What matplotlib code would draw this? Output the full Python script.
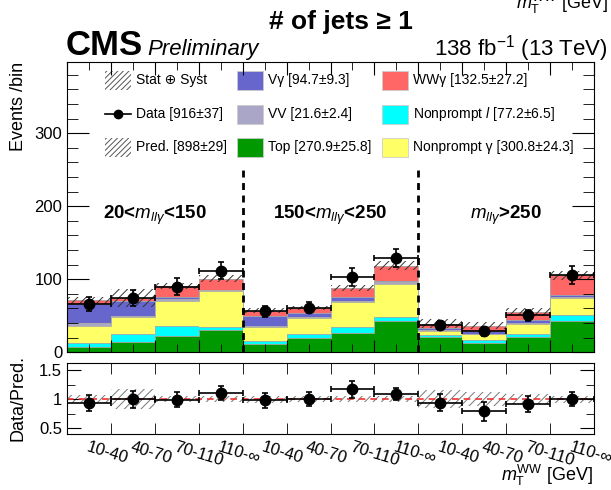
import numpy as np
import matplotlib
matplotlib.use('Agg')
import matplotlib.pyplot as plt
from matplotlib.patches import Rectangle
from matplotlib.lines import Line2D

plt.rcParams['font.family'] = ['Liberation Sans', 'DejaVu Sans']
plt.rcParams['mathtext.fontset'] = 'custom'
plt.rcParams['mathtext.rm'] = 'Liberation Sans'
plt.rcParams['mathtext.it'] = 'Liberation Sans:italic'
plt.rcParams['mathtext.bf'] = 'Liberation Sans:bold'
plt.rcParams['hatch.linewidth'] = 0.7

# 12 bins: 3 m_llg regions x 4 mT(WW) bins
bin_labels = ['10-40', '40-70', '70-110', '110-∞'] * 3
region_labels = [r'20<$m_{ll\gamma}$<150', r'150<$m_{ll\gamma}$<250', r'$m_{ll\gamma}$>250']

# stacked backgrounds, bottom to top
top    = [7.6, 14.4, 22.2, 30.3, 10.9, 19.0, 26.7, 43.0, 20.4, 13.0, 20.4, 43.0]
np_l   = [5.0, 10.0, 13.5, 5.0, 4.0, 6.0, 8.5, 6.0, 3.7, 4.2, 4.8, 7.5]
np_g   = [24.0, 23.5, 35.0, 48.0, 19.5, 21.5, 33.5, 45.0, 5.0, 7.5, 14.0, 23.5]
vv     = [3.0, 2.2, 2.3, 1.5, 1.5, 1.3, 1.6, 2.0, 0.8, 0.9, 1.0, 1.8]
vg     = [27.0, 19.5, 3.0, 1.2, 13.5, 6.0, 5.5, 2.0, 3.0, 3.0, 4.5, 2.5]
wwg    = [4.4, 4.7, 15.0, 15.0, 7.7, 6.9, 12.6, 20.8, 6.5, 8.1, 10.6, 26.9]
rel_unc = [0.07, 0.17, 0.05, 0.05, 0.06, 0.05, 0.05, 0.05, 0.15, 0.12, 0.09, 0.06]

data     = [66, 74, 90, 112, 56, 61, 103, 129, 37, 29, 51, 106]
data_err = [10, 11, 11.5, 12, 7.5, 7.5, 12.5, 12.5, 6, 6, 7.5, 12.5]

stack = [
    (top,  '#009900', 'Top [270.9±25.8]'),
    (np_l, '#00ffff', r'Nonprompt $l$ [77.2±6.5]'),
    (np_g, '#ffff66', 'Nonprompt γ [300.8±24.3]'),
    (vv,   '#aaa6c8', 'VV [21.6±2.4]'),
    (vg,   '#6666cc', 'Vγ [94.7±9.3]'),
    (wwg,  '#ff6666', 'WWγ [132.5±27.2]'),
]

nb = len(data)
edges = np.arange(nb + 1)
centers = edges[:-1] + 0.5

fig = plt.figure(figsize=(6.11, 4.9), dpi=100)
ax = fig.add_axes([67/611, 1-352.3/490, 527/611, 290.6/490])
rax = fig.add_axes([67/611, 1-434/490, 527/611, 71/490])

# stacked histogram
base = np.zeros(nb)
for vals, col, lab in stack:
    vals = np.array(vals)
    ax.stairs(base + vals, edges, baseline=base, fill=True, color=col, lw=0)
    ax.stairs(base + vals, edges, baseline=None, color='#aaaaaa', lw=0.6)
    base = base + vals
pred = base
pred_err = pred * np.array(rel_unc)

ax.bar(centers, 2*pred_err, bottom=pred-pred_err, width=1, fill=False,
       hatch='////', edgecolor='#333333', lw=0)
ax.errorbar(centers, data, yerr=data_err, xerr=0.5, fmt='o', color='black',
            ms=7.5, elinewidth=1.2, capsize=2, capthick=1.2)

for xe in [4, 8]:
    ax.plot([xe, xe], [0, 255], color='black', ls=(0, (2.5, 2)), lw=2)

for i, lab in enumerate(region_labels):
    ax.text(2 + 4*i, 187, lab, ha='center', va='center', fontsize=13.5, fontweight='bold')

ax.set_xlim(0, nb)
ax.set_ylim(0, 398)
ax.set_xticks(edges)
ax.set_xticks(centers, minor=True)
ax.set_xticklabels([])
ax.set_yticks([0, 100, 200, 300])
ax.set_yticks(np.arange(0, 400, 20), minor=True)
ax.tick_params(axis='both', which='both', direction='in', top=True, right=True, labelsize=12)
ax.tick_params(axis='y', which='major', length=16)
ax.tick_params(axis='y', which='minor', length=8)
ax.tick_params(axis='x', which='major', length=9)
ax.tick_params(axis='x', which='minor', length=6)

# legend, drawn by hand in three columns
hw, hh = 26/527, 19/290.6
cols = [0.072, 0.3226, 0.598]
rows = [0.937, 0.820, 0.706]
pad = 5/527
entries = [
    (0, 0, 'hatch', 'Stat ⊕ Syst'),
    (0, 1, 'data', 'Data [916±37]'),
    (0, 2, 'hatch', 'Pred. [898±29]'),
    (1, 0, stack[4][1], stack[4][2]),
    (1, 1, stack[3][1], stack[3][2]),
    (1, 2, stack[0][1], stack[0][2]),
    (2, 0, stack[5][1], stack[5][2]),
    (2, 1, stack[1][1], stack[1][2]),
    (2, 2, stack[2][1], stack[2][2]),
]
for c, r, kind, lab in entries:
    x0, yc = cols[c], rows[r]
    if kind == 'hatch':
        ax.add_patch(Rectangle((x0, yc - hh/2), hw, hh, transform=ax.transAxes,
                               fill=False, hatch='//////', edgecolor='#555555', lw=0))
    elif kind == 'data':
        ax.add_line(Line2D([x0, x0 + hw], [yc, yc], transform=ax.transAxes,
                           color='black', lw=1.2))
        ax.add_line(Line2D([x0 + hw/2], [yc], transform=ax.transAxes,
                           marker='o', color='black', ms=6))
    else:
        ax.add_patch(Rectangle((x0, yc - hh/2), hw, hh, transform=ax.transAxes,
                               facecolor=kind, edgecolor='#cccccc', lw=0.6))
    ax.text(x0 + hw + pad, yc, lab, transform=ax.transAxes, ha='left', va='center',
            fontsize=10)

# ratio panel
ratio = np.array(data) / pred
ratio_err = np.array(data_err) / pred
rax.bar(centers, 2*np.array(rel_unc), bottom=1-np.array(rel_unc), width=1, fill=False,
        hatch='////', edgecolor='#777777', lw=0)
rax.axhline(1, color='#ee3333', ls=(0, (4, 3)), lw=1.2)
rax.errorbar(centers, ratio, yerr=ratio_err, xerr=0.5, fmt='o', color='black',
             ms=7.5, elinewidth=1.2, capsize=2, capthick=1.2)
rax.set_xlim(0, nb)
rax.set_ylim(0.4, 1.62)
rax.set_yticks([0.5, 1, 1.5])
rax.set_yticklabels(['0.5', '1', '1.5'])
rax.set_yticks([0.75, 1.25], minor=True)
rax.set_xticks(centers)
rax.set_xticklabels(bin_labels, rotation=-17, ha='left', va='top', rotation_mode='anchor',
                    fontsize=12)
rax.set_xticks(edges, minor=True)
rax.tick_params(axis='both', which='both', direction='in', top=True, right=True, labelsize=12)
rax.tick_params(axis='x', which='major', length=0, pad=4, labelsize=12)
rax.tick_params(axis='x', which='minor', length=8)
rax.tick_params(axis='y', which='major', length=10)
rax.tick_params(axis='y', which='minor', length=6)

# labels and headers
fig.text(0.03, 1-62/490, 'Events /bin', rotation=90, ha='center', va='top', fontsize=13)
fig.text(0.03, 1-398/490, 'Data/Pred.', rotation=90, ha='center', va='center', fontsize=13)
fig.text(593/611, 1-481/490, r'$m_{\mathrm{T}}^{\mathrm{WW}}$ [GeV]', ha='right',
         va='baseline', fontsize=13)
fig.text(608/611, 1-9/490, r'$m_{\mathrm{T}}^{\mathrm{WW}}$ [GeV]', ha='right',
         va='baseline', fontsize=13)
fig.text(341/611, 1-29/490, '# of jets ≥ 1', ha='center', va='baseline', fontsize=19,
         fontweight='bold')
fig.text(66/611, 1-55/490, 'CMS', ha='left', va='baseline', fontsize=25, fontweight='bold')
fig.text(147/611, 1-55/490, 'Preliminary', ha='left', va='baseline', fontsize=16,
         style='italic')
fig.text(608/611, 1-55/490, r'138 fb$^{-1}$ (13 TeV)', ha='right', va='baseline',
         fontsize=16)

fig.savefig('out.png', dpi=100)
